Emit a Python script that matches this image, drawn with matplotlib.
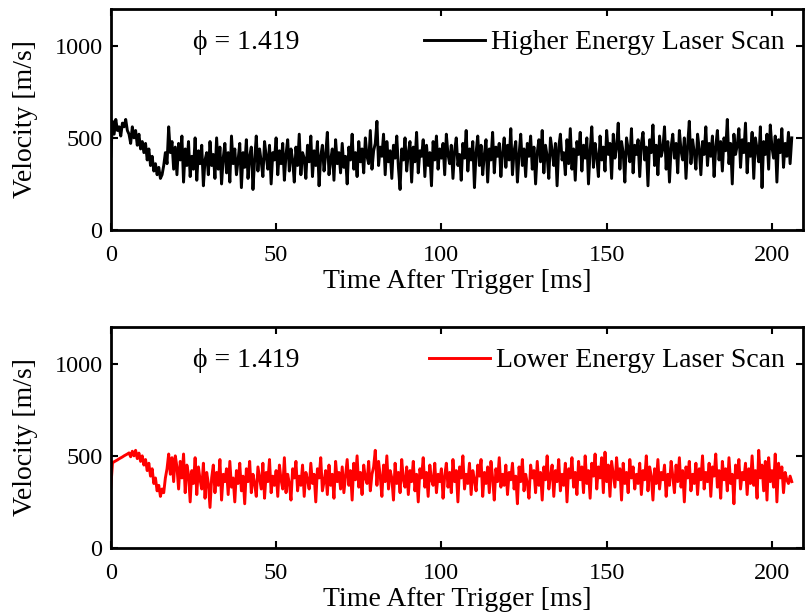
import numpy as np
import matplotlib.pyplot as plt

plt.rcParams['font.family'] = ['Liberation Serif', 'DejaVu Serif']
plt.rcParams['mathtext.fontset'] = 'stix'

# sample spacing of the traces (ms)
dt = 0.5

# Higher energy laser scan, velocity [m/s], every 0.5 ms
v_high = [
    400, 590, 520, 600, 540, 560, 510, 580, 560, 600, 540, 520, 470, 560, 500, 540, 460, 520, 440, 480,
    420, 470, 380, 440, 350, 400, 320, 360, 300, 340, 280, 300, 350, 420, 360, 560, 420, 480, 330, 450,
    300, 470, 380, 510, 260, 440, 350, 480, 290, 400, 330, 500, 270, 430, 360, 460, 240, 380, 420, 300,
    480, 350, 410, 280, 500, 330, 450, 250, 390, 470, 310, 420, 260, 510, 360, 440, 300, 380, 470, 230,
    420, 340, 490, 280, 400, 450, 220, 380, 510, 320, 440, 370, 290, 480, 400, 330, 460, 250, 420, 380,
    500, 300, 430, 360, 470, 270, 410, 490, 320, 440, 380, 260, 450, 350, 520, 300, 420, 390, 280, 460,
    370, 510, 290, 430, 350, 480, 240, 400, 460, 320, 410, 530, 300, 380, 440, 270, 490, 360, 420, 310,
    470, 340, 400, 250, 450, 380, 520, 330, 420, 290, 480, 370, 440, 310, 500, 400, 360, 540, 330, 430,
    470, 590, 350, 450, 400, 520, 300, 480, 370, 430, 280, 460, 390, 510, 340, 220, 440, 380, 500, 320,
    420, 480, 260, 450, 370, 530, 310, 430, 400, 490, 290, 460, 350, 420, 240, 480, 380, 510, 330, 440,
    390, 470, 300, 520, 410, 360, 460, 280, 430, 500, 350, 410, 270, 470, 390, 540, 320, 440, 380, 480,
    230, 420, 510, 350, 460, 300, 410, 490, 260, 440, 380, 530, 310, 450, 400, 470, 290, 420, 500, 340,
    460, 380, 550, 300, 430, 480, 260, 410, 520, 350, 440, 290, 470, 400, 510, 330, 450, 250, 420, 490,
    370, 540, 310, 460, 400, 280, 500, 430, 350, 470, 240, 450, 520, 380, 420, 300, 490, 360, 550, 330,
    440, 270, 480, 410, 530, 320, 460, 390, 500, 250, 430, 560, 340, 470, 400, 290, 510, 380, 450, 320,
    540, 410, 470, 280, 520, 390, 450, 580, 330, 480, 420, 260, 500, 440, 370, 550, 310, 460, 410, 490,
    290, 470, 530, 380, 450, 240, 490, 420, 570, 350, 460, 300, 510, 400, 440, 560, 330, 480, 260, 450,
    520, 390, 470, 310, 540, 430, 380, 500, 280, 460, 590, 360, 490, 420, 330, 520, 440, 300, 480, 410,
    560, 350, 470, 400, 510, 290, 450, 540, 380, 480, 320, 500, 430, 600, 360, 470, 250, 520, 410, 460,
    550, 340, 490, 420, 580, 310, 470, 400, 530, 280, 500, 440, 370, 560, 230, 480, 410, 520, 330, 570,
    450, 390, 510, 260, 490, 420, 550, 340, 470, 400, 530, 360, 500,
]

# Lower energy laser scan
v_low = [
    330, 462, 468, 473, 478, 484, 489, 494, 500, 505, 510, 516, 495, 525, 500, 530, 485, 515, 470, 500,
    450, 480, 420, 460, 390, 430, 350, 380, 310, 340, 280, 320, 300, 380, 430, 510, 400, 490, 360, 500,
    440, 320, 470, 380, 510, 300, 450, 400, 250, 420, 350, 490, 290, 440, 370, 320, 460, 270, 410, 350,
    220, 380, 450, 300, 410, 340, 480, 260, 400, 360, 430, 290, 470, 330, 380, 250, 420, 350, 460, 310,
    390, 240, 430, 360, 470, 300, 400, 350, 280, 440, 380, 320, 460, 270, 410, 360, 480, 300, 390, 340,
    420, 280, 450, 370, 320, 490, 300, 400, 350, 260, 430, 380, 470, 310, 390, 340, 450, 280, 410, 370,
    320, 460, 350, 400, 250, 430, 380, 490, 310, 360, 420, 290, 450, 340, 400, 270, 470, 360, 410, 320,
    440, 300, 390, 480, 340, 420, 260, 460, 370, 500, 330, 410, 290, 450, 380, 350, 470, 310, 400, 440,
    530, 340, 470, 390, 280, 450, 360, 500, 320, 420, 380, 260, 460, 350, 410, 300, 480, 370, 330, 440,
    290, 420, 360, 470, 310, 400, 250, 430, 380, 490, 330, 410, 280, 450, 370, 340, 460, 300, 400, 360,
    430, 270, 390, 460, 330, 410, 300, 480, 360, 420, 250, 440, 380, 500, 320, 400, 350, 460, 290, 420,
    370, 310, 450, 390, 480, 280, 410, 350, 440, 300, 470, 380, 260, 430, 360, 490, 330, 400, 340, 450,
    290, 410, 370, 460, 320, 390, 240, 440, 360, 480, 310, 400, 350, 270, 450, 380, 420, 300, 470, 340,
    410, 260, 440, 370, 500, 320, 390, 450, 280, 420, 360, 480, 310, 400, 340, 460, 250, 430, 380, 490,
    330, 410, 290, 470, 370, 440, 300, 500, 350, 420, 270, 460, 390, 510, 320, 440, 380, 490, 300, 520,
    360, 450, 280, 470, 400, 330, 490, 370, 430, 260, 460, 350, 410, 300, 480, 380, 440, 320, 400, 350,
    460, 290, 420, 370, 500, 310, 440, 390, 260, 430, 350, 480, 320, 410, 370, 450, 280, 400, 340, 470,
    390, 300, 450, 360, 490, 330, 420, 250, 440, 380, 470, 310, 400, 350, 460, 290, 430, 370, 500, 320,
    410, 360, 460, 280, 440, 390, 510, 330, 420, 270, 470, 370, 430, 310, 490, 350, 400, 240, 450, 380,
    480, 320, 410, 370, 460, 290, 430, 350, 500, 340, 420, 270, 530, 380, 450, 310, 470, 260, 490, 360,
    420, 330, 510, 250, 460, 380, 440, 300, 410, 370, 350, 390, 360,
]

t_high = np.arange(len(v_high)) * dt
t_low = np.arange(len(v_low)) * dt

phi_text = '\u03d5 = 1.419'

fig = plt.figure(figsize=(8.09, 6.16), dpi=100)
ax1 = fig.add_axes([0.137, 0.6266, 0.856, 0.359])
ax2 = fig.add_axes([0.137, 0.1104, 0.856, 0.359])

panels = [
    (ax1, t_high, v_high, 'black', 'Higher Energy Laser Scan'),
    (ax2, t_low, v_low, 'red', 'Lower Energy Laser Scan'),
]

for ax, t, v, col, lab in panels:
    ax.plot(t, v, color=col, linewidth=2.1, label=lab)
    ax.set_xlim(0, 209.5)
    ax.set_ylim(0, 1200)
    ax.set_xticks([0, 50, 100, 150, 200])
    ax.set_yticks([0, 500, 1000])
    ax.tick_params(direction='in', length=5, width=1.5, top=True, right=True,
                   labelsize=17.5)
    ax.tick_params(axis='x', pad=11)
    ax.tick_params(axis='y', pad=6)
    for s in ax.spines.values():
        s.set_linewidth(2)
    ax.set_xlabel('Time After Trigger [ms]', fontsize=20, labelpad=2)
    ax.set_ylabel('Velocity [m/s]', fontsize=20, labelpad=12)
    ax.text(0.195, 0.85, phi_text, transform=ax.transAxes, fontsize=20,
            ha='center', va='center')
    ax.legend(loc='upper right', bbox_to_anchor=(0.993, 0.968), frameon=False,
              fontsize=20, handlelength=2.2, handletextpad=0.2,
              borderaxespad=0.2, borderpad=0.3)

plt.savefig('out.png', dpi=100)
